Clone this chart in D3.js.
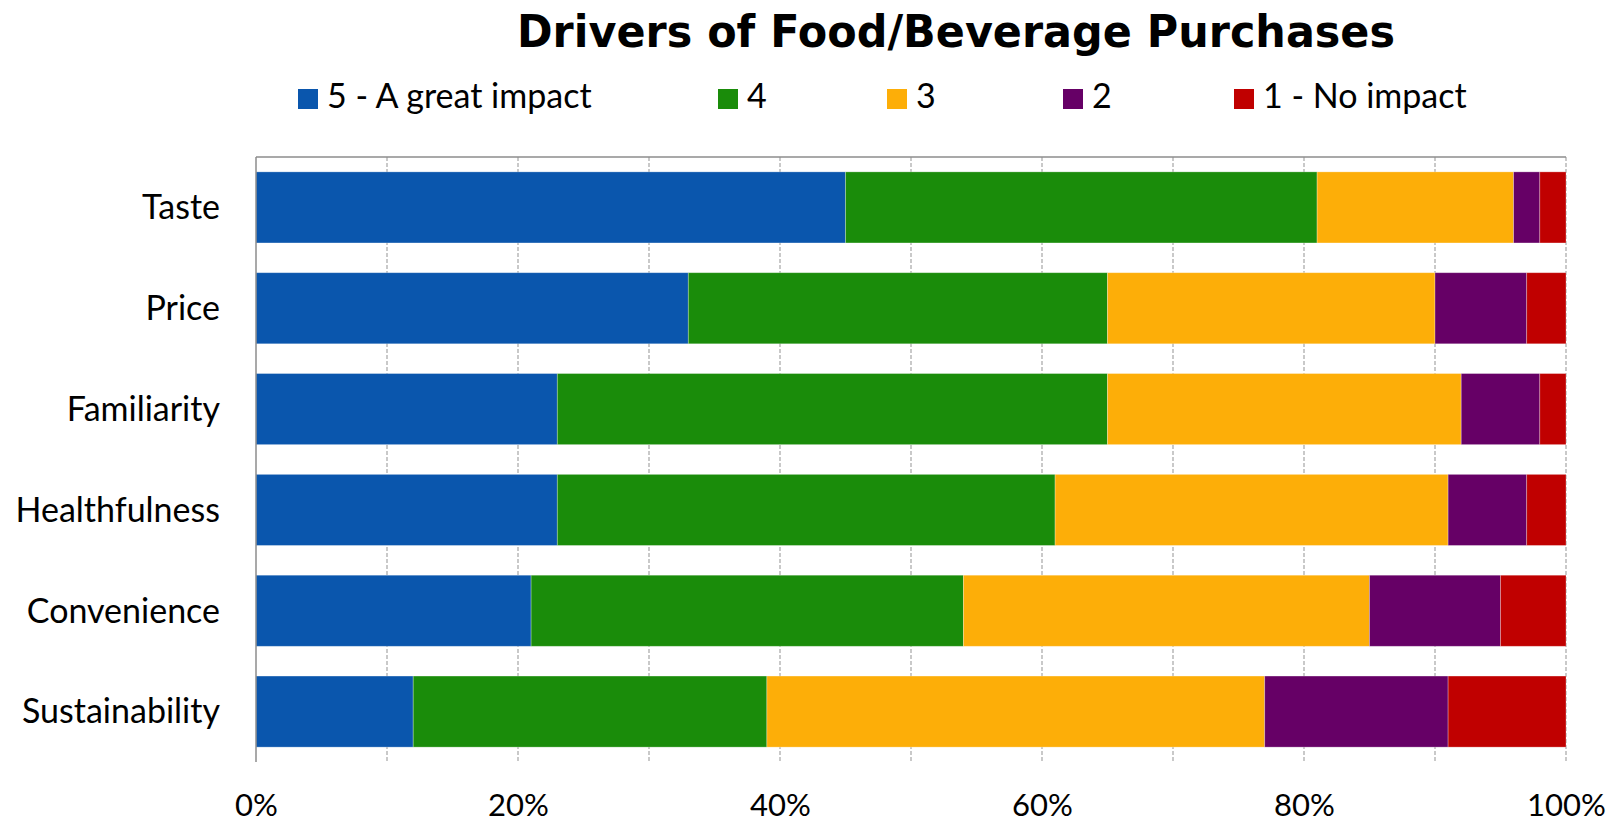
<!DOCTYPE html>
<html>
<head>
<meta charset="utf-8">
<script src="https://cdn.jsdelivr.net/npm/d3@7"></script>
<style>
  html, body { margin: 0; padding: 0; background: #fff; }
  svg { display: block; font-family: Lato, "Open Sans", sans-serif; }
</style>
</head>
<body>
<div id="chart"></div>
<script>
// Chart data
const categories = ["Taste", "Price", "Familiarity", "Healthfulness", "Convenience", "Sustainability"];
const seriesNames = ["5 - A great impact", "4", "3", "2", "1 - No impact"];
const impact5 = [45, 33, 23, 23, 21, 12];
const impact4 = [36, 32, 42, 38, 33, 27];
const impact3 = [15, 25, 27, 30, 31, 38];
const impact2 = [2, 7, 6, 6, 10, 14];
const impact1 = [2, 3, 2, 3, 5, 9];
const tickLabels = ["0%", "20%", "40%", "60%", "80%", "100%"];
const tickValues = [0, 20, 40, 60, 80, 100];
const title = "Drivers of Food/Beverage Purchases";

const colors = ["#0A56AD", "#1A8C0A", "#FDAE08", "#660066", "#C00000"];

// Build rows for the stack
const seriesValues = [impact5, impact4, impact3, impact2, impact1];
const rows = categories.map((c, i) => {
  const row = { category: c };
  seriesNames.forEach((s, j) => { row[s] = seriesValues[j][i]; });
  return row;
});

const stacked = d3.stack().keys(seriesNames)(rows);

// Dimensions
const W = 1614, H = 824;
const margin = { top: 157, right: 48, bottom: 62, left: 256 },
  width = W - margin.left - margin.right,
  height = H - margin.top - margin.bottom;

const svg = d3.select("#chart").append("svg")
  .attr("width", W)
  .attr("height", H);

const g = svg.append("g")
  .attr("transform", `translate(${margin.left},${margin.top})`);

// Scales
const x = d3.scaleLinear()
  .domain([0, 100])
  .range([0, width]);

const y = d3.scaleBand()
  .domain(categories)
  .range([0, height])
  .paddingInner(0.295)
  .paddingOuter(0.1475);

const color = d3.scaleOrdinal()
  .domain(seriesNames)
  .range(colors);

// Gridlines (dashed, every 10%)
g.append("g")
  .selectAll("line")
  .data(x.ticks(10).filter(d => d > 0))
  .join("line")
  .attr("x1", d => x(d))
  .attr("x2", d => x(d))
  .attr("y1", 0)
  .attr("y2", height)
  .attr("stroke", "#a6a6a6")
  .attr("stroke-width", 1.2)
  .attr("stroke-dasharray", "4,2");

// Top border
g.append("line")
  .attr("x1", 0).attr("x2", width)
  .attr("y1", 0).attr("y2", 0)
  .attr("stroke", "#8c8c8c")
  .attr("stroke-width", 1.5);

// Bars
g.append("g")
  .selectAll("g")
  .data(stacked)
  .join("g")
  .attr("fill", d => color(d.key))
  .selectAll("rect")
  .data(d => d)
  .join("rect")
  .attr("x", d => x(d[0]))
  .attr("y", d => y(d.data.category))
  .attr("width", d => x(d[1]) - x(d[0]))
  .attr("height", y.bandwidth())
  .attr("stroke", "rgba(255,255,255,0.35)")
  .attr("stroke-width", 0.8);

// Left axis line
g.append("line")
  .attr("x1", 0).attr("x2", 0)
  .attr("y1", 0).attr("y2", height)
  .attr("stroke", "#8c8c8c")
  .attr("stroke-width", 1.5);

// Category labels
const yAxis = g.append("g")
  .call(d3.axisLeft(y).tickSize(0).tickPadding(36));
yAxis.select(".domain").remove();
yAxis.selectAll("text")
  .attr("dy", "0.35em")
  .style("font-family", "Lato, sans-serif")
  .style("font-size", "34px")
  .attr("fill", "#000");

// X tick labels
const xAxis = g.append("g")
  .attr("transform", `translate(0,${height})`)
  .call(d3.axisBottom(x)
    .tickValues(tickValues)
    .tickFormat((d, i) => tickLabels[i])
    .tickSize(0)
    .tickPadding(32));
xAxis.select(".domain").remove();
xAxis.selectAll("text")
  .style("font-family", "Lato, sans-serif")
  .style("font-size", "31px")
  .attr("fill", "#000");

// Title
svg.append("text")
  .attr("x", 956)
  .attr("y", 47)
  .attr("text-anchor", "middle")
  .attr("textLength", 878)
  .attr("lengthAdjust", "spacingAndGlyphs")
  .style("font-family", "'DejaVu Sans', Verdana, sans-serif")
  .style("font-weight", "bold")
  .style("font-size", "45px")
  .text(title);

// Legend
const legendX = [298, 718, 887, 1063, 1234];
const legend = svg.append("g");
seriesNames.forEach((s, i) => {
  const item = legend.append("g")
    .attr("transform", `translate(${legendX[i]},89)`);
  item.append("rect")
    .attr("width", 20)
    .attr("height", 20)
    .attr("fill", color(s));
  item.append("text")
    .attr("x", 29)
    .attr("y", 19)
    .style("font-size", "34px")
    .attr("fill", "#000")
    .text(s);
});
</script>
</body>
</html>
